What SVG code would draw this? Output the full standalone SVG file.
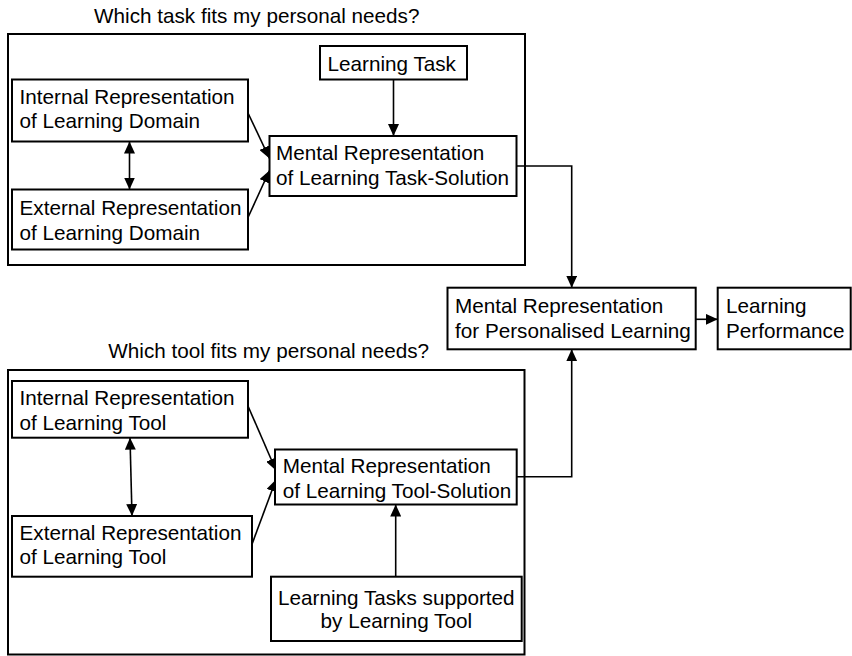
<svg xmlns="http://www.w3.org/2000/svg" width="852" height="656" viewBox="0 0 852 656">
<style>
  .box { fill: #ffffff; stroke: #000000; stroke-width: 2; }
  .frame { fill: none; stroke: #000000; stroke-width: 2; }
  .t { font-family: "Liberation Sans", Arial, sans-serif; font-size: 20.7px; fill: #000000; }
  .c { text-anchor: middle; }
  .ln { fill: none; stroke: #000000; stroke-width: 1.6; }
</style>
<defs>
  <marker id="ah" viewBox="0 0 12 11" refX="12" refY="5.5" markerWidth="12" markerHeight="11" markerUnits="userSpaceOnUse" orient="auto-start-reverse">
    <path d="M0,0 L12,5.5 L0,11 z" fill="#000000"/>
  </marker>
</defs>
<rect width="852" height="656" fill="#ffffff"/>

<g id="frame-task">
  <text class="t" x="94" y="22.7">Which task fits my personal needs?</text>
  <rect class="frame" x="8" y="34" width="517" height="231"/>
</g>
<g id="frame-tool">
  <text class="t" x="108.3" y="358.3">Which tool fits my personal needs?</text>
  <rect class="frame" x="8" y="370" width="516.5" height="284.5"/>
</g>

<g id="connectors">
  <line class="ln" x1="129.5" y1="141.5" x2="129.5" y2="189.5" marker-start="url(#ah)" marker-end="url(#ah)"/>
  <line class="ln" x1="393.5" y1="79.5" x2="393.5" y2="136" marker-end="url(#ah)"/>
  <line class="ln" x1="248" y1="113" x2="269.5" y2="158.5" marker-end="url(#ah)"/>
  <line class="ln" x1="248" y1="217.5" x2="269.5" y2="170.5" marker-end="url(#ah)"/>
  <path class="ln" d="M516.5,166 H571.7 V287.7" marker-end="url(#ah)"/>
  <line class="ln" x1="695.7" y1="319.3" x2="717.7" y2="319.3" marker-end="url(#ah)"/>
  <line class="ln" x1="130" y1="437.7" x2="132" y2="516" marker-start="url(#ah)" marker-end="url(#ah)"/>
  <line class="ln" x1="248.3" y1="406.7" x2="276" y2="470.5" marker-end="url(#ah)"/>
  <line class="ln" x1="251.7" y1="545" x2="276" y2="479.5" marker-end="url(#ah)"/>
  <line class="ln" x1="395.7" y1="576.7" x2="395.7" y2="504.5" marker-end="url(#ah)"/>
  <path class="ln" d="M516.7,476.7 H571.7 V349.3" marker-end="url(#ah)"/>
</g>

<g id="internal-domain">
  <rect class="box" x="12" y="79.5" width="236" height="62"/>
  <text class="t" x="19.5" y="103.5">Internal Representation</text>
  <text class="t" x="19.5" y="128">of Learning Domain</text>
</g>
<g id="external-domain">
  <rect class="box" x="12" y="189.5" width="236" height="60"/>
  <text class="t" x="19.5" y="215">External Representation</text>
  <text class="t" x="19.5" y="239.5">of Learning Domain</text>
</g>
<g id="learning-task">
  <rect class="box" x="320" y="46" width="147" height="33.5"/>
  <text class="t" x="327.5" y="70.7">Learning Task</text>
</g>
<g id="mental-task">
  <rect class="box" x="269.5" y="136" width="247" height="60"/>
  <text class="t" x="276" y="160">Mental Representation</text>
  <text class="t" x="276" y="184.5">of Learning Task-Solution</text>
</g>
<g id="mental-personalised">
  <rect class="box" x="447.5" y="287.7" width="248.2" height="61.6"/>
  <text class="t" x="455" y="312.7">Mental Representation</text>
  <text class="t" x="455" y="337.7">for Personalised Learning</text>
</g>
<g id="learning-performance">
  <rect class="box" x="717.7" y="287.7" width="133" height="61.6"/>
  <text class="t" x="726" y="312.7">Learning</text>
  <text class="t" x="726" y="337.7">Performance</text>
</g>
<g id="internal-tool">
  <rect class="box" x="12" y="381" width="236" height="56.7"/>
  <text class="t" x="19.5" y="405">Internal Representation</text>
  <text class="t" x="19.5" y="430">of Learning Tool</text>
</g>
<g id="external-tool">
  <rect class="box" x="12" y="516" width="240" height="60.7"/>
  <text class="t" x="19.5" y="539.5">External Representation</text>
  <text class="t" x="19.5" y="564">of Learning Tool</text>
</g>
<g id="mental-tool">
  <rect class="box" x="275" y="449.5" width="241.7" height="55"/>
  <text class="t" x="282.7" y="472.7">Mental Representation</text>
  <text class="t" x="282.7" y="498.3">of Learning Tool-Solution</text>
</g>
<g id="tasks-supported">
  <rect class="box" x="271" y="576.7" width="250.7" height="64.3"/>
  <text class="t c" x="396.3" y="605">Learning Tasks supported</text>
  <text class="t c" x="396.3" y="628.3">by Learning Tool</text>
</g>
</svg>
